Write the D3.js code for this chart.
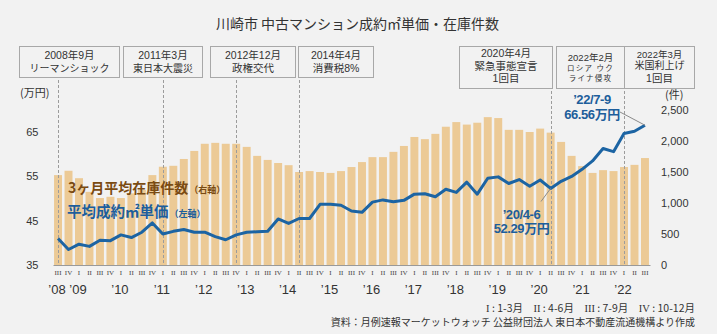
<!DOCTYPE html>
<html>
<head>
<meta charset="utf-8">
<script src="https://cdn.jsdelivr.net/npm/d3@7"></script>
<style>
  html, body { margin: 0; padding: 0; background: #f2f2f2; }
  svg { display: block; }
</style>
</head>
<body>
<svg id="chart" width="717" height="334"></svg>
<script>
// ---- data ---------------------------------------------------------------
const categories = [
  "2008 III","2008 IV",
  "2009 I","2009 II","2009 III","2009 IV",
  "2010 I","2010 II","2010 III","2010 IV",
  "2011 I","2011 II","2011 III","2011 IV",
  "2012 I","2012 II","2012 III","2012 IV",
  "2013 I","2013 II","2013 III","2013 IV",
  "2014 I","2014 II","2014 III","2014 IV",
  "2015 I","2015 II","2015 III","2015 IV",
  "2016 I","2016 II","2016 III","2016 IV",
  "2017 I","2017 II","2017 III","2017 IV",
  "2018 I","2018 II","2018 III","2018 IV",
  "2019 I","2019 II","2019 III","2019 IV",
  "2020 I","2020 II","2020 III","2020 IV",
  "2021 I","2021 II","2021 III","2021 IV",
  "2022 I","2022 II","2022 III"
];

const yearLabels = ["’08","’09","’10","’11","’12","’13","’14","’15","’16","’17","’18","’19","’20","’21","’22"];

// 3ヶ月平均在庫件数 (件, right axis)
const inventory = [
  1450, 1520,
  1400, 1180, 1080, 1100,
  1080, 1155, 1210, 1450,
  1585, 1600, 1710, 1840,
  1955, 1970, 1955, 1955,
  1905, 1760, 1695, 1645,
  1610, 1500, 1515, 1500,
  1485, 1515, 1580, 1660,
  1740, 1740, 1825, 1920,
  2065, 2030, 2115, 2230,
  2305, 2265, 2295, 2385,
  2370, 2180, 2180, 2145,
  2200, 2135, 1985, 1760,
  1595, 1485, 1530, 1515,
  1580, 1615, 1725
];

// 平均成約㎡単価 (万円, left axis)
const unitPrice = [
  41.0, 38.5,
  39.7, 39.2, 40.6, 40.5,
  41.8, 41.2, 42.4, 44.5,
  42.0, 42.6, 43.0, 42.4,
  42.4, 41.4, 40.7, 41.8,
  42.4, 42.5, 42.6, 45.4,
  44.4, 45.5, 45.5, 48.7,
  48.7, 48.5, 47.2, 46.9,
  49.2, 49.7, 49.3, 49.6,
  51.0, 51.1, 50.4, 52.1,
  51.4, 53.7, 51.0, 54.6,
  54.9, 53.4, 54.3, 52.8,
  54.2, 52.29, 53.9, 55.0,
  56.6, 58.5, 61.3, 60.6,
  64.7, 65.2, 66.56
];

const leftTicks = [35, 45, 55, 65];
const rightTicks = [0, 500, 1000, 1500, 2000, 2500];

const eventLabels = [
  ["2008年9月", "リーマンショック"],
  ["2011年3月", "東日本大震災"],
  ["2012年12月", "政権交代"],
  ["2014年4月", "消費税8%"],
  ["2020年4月", "緊急事態宣言", "1回目"],
  ["2022年2月", "ロシア ウク", "ライナ侵攻"],
  ["2022年3月", "米国利上げ", "1回目"]
];
const eventQuarters = ["2008 III", "2011 I", "2012 IV", "2014 II", "2020 II", "2022 I", "2022 I"];

const callouts = [
  { cat: "2020 II", period: "’20/4-6" },
  { cat: "2022 III", period: "’22/7-9" }
];

// ---- layout ---------------------------------------------------------------
const W = 717, H = 334;
const plot = { left: 53, right: 650, top: 110, bottom: 265 };
const C = {
  bg: "#f2f2f2", bar: "#ecca96", line: "#1c64a3", blueText: "#1d5e9b",
  brown: "#7a4b12", text: "#333333", grid: "#9c9c9c", box: "#a8a8a8"
};
const SANS = "'Liberation Sans', Arial, 'Noto Sans CJK JP', sans-serif";
const JP = "'Noto Sans CJK JP', 'Liberation Sans', sans-serif";
const SERIF = "'Liberation Serif', 'DejaVu Serif', serif";

// event boxes: left edge, width, height and per-line font sizes / baselines
const boxLayout = [
  { x: 19,  w: 100, h: 31, sizes: [10.5, 10],   ys: [59, 72] },
  { x: 123, w: 79,  h: 31, sizes: [10.5, 10],   ys: [59, 72] },
  { x: 210, w: 85,  h: 31, sizes: [10.5, 10.5], ys: [59, 72] },
  { x: 298, w: 75,  h: 31, sizes: [10.5, 10.5], ys: [59, 72] },
  { x: 459, w: 93,  h: 42, sizes: [10.5, 10.5, 10.5], ys: [57, 69.5, 82] },
  { x: 556, w: 68,  h: 42, sizes: [9.5, 7.5, 7.5], ys: [61, 71, 80.5], spacing: [0, 1.2, 1.2] },
  { x: 624, w: 70,  h: 42, sizes: [9.5, 10, 10.5], ys: [57.5, 68.5, 82] }
];
const boxTop = 46;

const svg = d3.select("#chart");
svg.append("rect").attr("width", W).attr("height", H).attr("fill", C.bg);

// ---- scales ---------------------------------------------------------------
const x = d3.scaleBand().domain(categories).range([plot.left, plot.right])
  .paddingInner(0.24).paddingOuter(0.1);
const yL = d3.scaleLinear().domain([35, 70]).range([plot.bottom, plot.top]);
const yR = d3.scaleLinear().domain([0, 2500]).range([plot.bottom, plot.top]);
const cx = c => x(c) + x.bandwidth() / 2;

// ---- title ---------------------------------------------------------------
svg.append("text")
  .attr("x", 357.5).attr("y", 29)
  .attr("text-anchor", "middle")
  .attr("font-family", JP).attr("font-size", 14)
  .attr("fill", C.text)
  .text("川崎市 中古マンション成約㎡単価・在庫件数");

// ---- event boxes -------------------------------------------------------------
eventLabels.forEach((lines, i) => {
  const b = boxLayout[i];
  svg.append("rect")
    .attr("x", b.x + 0.5).attr("y", boxTop + 0.5)
    .attr("width", b.w).attr("height", b.h)
    .attr("fill", "none").attr("stroke", C.box).attr("stroke-width", 1);
  lines.forEach((t, j) => {
    svg.append("text")
      .attr("x", b.x + b.w / 2 + 0.5).attr("y", b.ys[j])
      .attr("text-anchor", "middle")
      .attr("font-family", SANS)
      .attr("font-size", b.sizes[j])
      .attr("letter-spacing", b.spacing ? b.spacing[j] : 0)
      .attr("fill", C.text)
      .text(t);
  });
});

// ---- bars ---------------------------------------------------------------
svg.append("g").selectAll("rect")
  .data(categories)
  .join("rect")
  .attr("x", d => x(d))
  .attr("width", x.bandwidth())
  .attr("y", (d, i) => yR(inventory[i]))
  .attr("height", (d, i) => yR(0) - yR(inventory[i]))
  .attr("fill", C.bar);

// ---- event guide lines -------------------------------------------------------
eventQuarters.forEach((q, i) => {
  const b = boxLayout[i];
  svg.append("line")
    .attr("x1", Math.round(cx(q)) + 0.5).attr("x2", Math.round(cx(q)) + 0.5)
    .attr("y1", boxTop + b.h + 3).attr("y2", plot.bottom)
    .attr("stroke", C.grid).attr("stroke-width", 1)
    .attr("stroke-dasharray", "3,2");
});

// ---- axes ---------------------------------------------------------------
const axisL = svg.append("g")
  .attr("transform", `translate(38.5,0)`)
  .call(d3.axisLeft(yL).tickValues(leftTicks).tickSize(0).tickPadding(0));
axisL.select(".domain").remove();
axisL.selectAll("text").attr("font-family", SANS).attr("font-size", 11).attr("fill", C.text);

const axisR = svg.append("g")
  .attr("transform", `translate(661,0)`)
  .call(d3.axisRight(yR).tickValues(rightTicks).tickFormat(d3.format(",")).tickSize(0).tickPadding(0));
axisR.select(".domain").remove();
axisR.selectAll("text").attr("font-family", SANS).attr("font-size", 11).attr("fill", C.text);

svg.append("text").attr("x", 20).attr("y", 97)
  .attr("font-family", JP).attr("font-size", 11).attr("fill", C.text).text("(万円)");
svg.append("text").attr("x", 665).attr("y", 99)
  .attr("font-family", JP).attr("font-size", 11).attr("fill", C.text).text("(件)");

// quarter numerals + baseline
const axisQ = svg.append("g")
  .attr("transform", `translate(0,${plot.bottom})`)
  .call(d3.axisBottom(x).tickSize(0).tickSizeOuter(0).tickPadding(5.5)
    .tickFormat(d => d.split(" ")[1]));
axisQ.select(".domain").attr("stroke", "#999").attr("stroke-width", 1.2);
axisQ.selectAll("text").attr("font-family", SERIF).attr("font-size", 7).attr("fill", "#444");

// year labels at each year's first quarter
const firstOfYear = yearLabels.map((y, k) => categories.find(c => c.slice(2, 4) === y.slice(1)));
const axisY = svg.append("g")
  .attr("transform", `translate(-1,${plot.bottom})`)
  .call(d3.axisBottom(x).tickValues(firstOfYear).tickSize(0).tickPadding(19.8)
    .tickFormat((d, k) => yearLabels[k]));
axisY.select(".domain").remove();
axisY.selectAll("text").attr("font-family", SANS).attr("font-size", 13).attr("fill", C.text);

// ---- price line -------------------------------------------------------------
const line = d3.line()
  .x((d, i) => cx(categories[i]))
  .y(d => yL(d));
svg.append("path")
  .datum(unitPrice)
  .attr("d", line)
  .attr("fill", "none")
  .attr("stroke", C.line)
  .attr("stroke-width", 3)
  .attr("stroke-linejoin", "round");

// ---- series labels ---------------------------------------------------------
const lab1 = svg.append("text").attr("x", 68).attr("y", 192.5)
  .attr("font-family", JP).attr("font-weight", 700).attr("fill", C.brown);
lab1.append("tspan").attr("font-size", 14).text("3ヶ月平均在庫件数");
lab1.append("tspan").attr("font-size", 9).attr("dx", 1).text("（右軸）");

const lab2 = svg.append("text").attr("x", 67).attr("y", 216.5)
  .attr("font-family", JP).attr("font-weight", 700).attr("fill", C.blueText);
lab2.append("tspan").attr("font-size", 14.5).text("平均成約㎡単価");
lab2.append("tspan").attr("font-size", 9).attr("dx", 1).text("（左軸）");

// ---- callouts ---------------------------------------------------------------
const fmt = d3.format(".2f");
const calloutLayout = {
  "2020 II":  { tx: 521.5, ty: [219, 232.5], lx: 541, ly: 201.5 },
  "2022 III": { tx: 592,   ty: [104, 119],   lx: 620, ly: 112 }
};
callouts.forEach(c => {
  const i = categories.indexOf(c.cat);
  const v = unitPrice[i];
  const L = calloutLayout[c.cat];
  svg.append("line")
    .attr("x1", cx(c.cat)).attr("y1", yL(v))
    .attr("x2", L.lx).attr("y2", L.ly)
    .attr("stroke", "#8a8a8a").attr("stroke-width", 1);
  [c.period, fmt(v) + "万円"].forEach((t, j) => {
    svg.append("text")
      .attr("x", L.tx).attr("y", L.ty[j])
      .attr("text-anchor", "middle")
      .attr("font-family", SANS).attr("font-weight", 700)
      .attr("font-size", 13).attr("letter-spacing", -0.4)
      .attr("fill", C.blueText)
      .text(t);
  });
});

// ---- footnotes ---------------------------------------------------------------
const key = svg.append("text").attr("x", 695).attr("y", 311.5)
  .attr("text-anchor", "end")
  .attr("font-family", JP).attr("font-size", 10.5).attr("fill", C.text);
[["I", " : 1-3月　"], ["II", " : 4-6月　"], ["III", " : 7-9月　"], ["IV", " : 10-12月"]].forEach(([r, t]) => {
  key.append("tspan").attr("font-family", SERIF).text(r);
  key.append("tspan").text(t);
});

svg.append("text").attr("x", 695).attr("y", 326)
  .attr("text-anchor", "end")
  .attr("font-family", JP).attr("font-size", 10).attr("fill", C.text)
  .text("資料：月例速報マーケットウォッチ 公益財団法人 東日本不動産流通機構より作成");
</script>
</body>
</html>
